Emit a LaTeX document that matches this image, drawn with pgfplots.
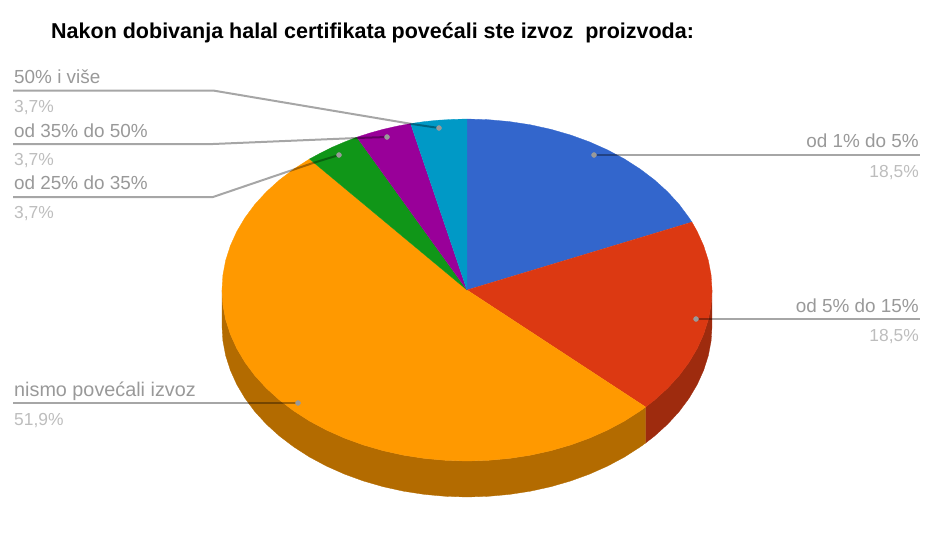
\documentclass[border=0pt]{standalone}
\usepackage{fontspec}
\setmainfont{Liberation Sans}
\usepackage{pgfplots}
\pgfplotsset{compat=1.18}
\definecolor{cblue}{HTML}{3366CC}
\definecolor{cred}{HTML}{DC3912}
\definecolor{corange}{HTML}{FF9900}
\definecolor{cgreen}{HTML}{109618}
\definecolor{cpurple}{HTML}{990099}
\definecolor{ccyan}{HTML}{0099C6}
\definecolor{credwall}{HTML}{9E2B0E}
\definecolor{corangewall}{HTML}{B36B00}
\definecolor{cname}{HTML}{999999}
\definecolor{cval}{HTML}{BDBDBD}
\newcommand{\lab}[4]{\node[anchor=base #1,inner sep=0pt,text=#2,font=\fontsize{18.9}{20}\selectfont] at (axis cs:#3) {#4};}
\newcommand{\val}[3]{\node[anchor=base #1,inner sep=0pt,text=cval,font=\fontsize{17.4}{20}\selectfont] at (axis cs:#2) {#3};}
\begin{document}
\begin{tikzpicture}
\path (0,0) rectangle (940pt,555pt);
\begin{axis}[
    hide axis,
    scale only axis,
    width=940pt,
    height=555pt,
    xmin=0,xmax=940,
    ymin=0,ymax=555,
    y dir=reverse,
    clip=false,
  ]
% side walls (top rim moved down by 36)
\addplot[fill=credwall,draw=credwall,line width=.3pt] coordinates {
  (712,290)(711.1,304.9)(708.3,319.7)(703.6,334.3)(697.2,348.5)(689,362.3)(679.2,375.5)
  (667.7,388.1)(654.7,399.9)(645.6,407)
  (645.6,443)(654.7,435.9)(667.7,424.1)(679.2,411.5)(689,398.3)(697.2,384.5)
  (703.6,370.3)(708.3,355.7)(711.1,340.9)(712,326)};
\addplot[fill=corangewall,draw=corangewall,line width=.3pt] coordinates {
  (645.6,407)(640.2,410.9)(624.5,421)(607.5,430.1)(589.5,438.1)(570.5,445)(550.8,450.7)
  (530.4,455.2)(509.5,458.4)(488.4,460.3)(467,461)(445.6,460.3)(424.5,458.4)(403.6,455.2)
  (383.2,450.7)(363.5,445)(344.5,438.1)(326.5,430.1)(309.5,421)(293.8,410.9)(279.3,399.9)
  (266.3,388.1)(254.8,375.5)(245,362.3)(236.8,348.5)(230.4,334.3)(225.7,319.7)(222.9,304.9)(222,290)
  (222,326)(222.9,340.9)(225.7,355.7)(230.4,370.3)(236.8,384.5)(245,398.3)(254.8,411.5)
  (266.3,424.1)(279.3,435.9)(293.8,446.9)(309.5,457)(326.5,466.1)(344.5,474.1)(363.5,481)
  (383.2,486.7)(403.6,491.2)(424.5,494.4)(445.6,496.3)(467,497)(488.4,496.3)(509.5,494.4)
  (530.4,491.2)(550.8,486.7)(570.5,481)(589.5,474.1)(607.5,466.1)(624.5,457)(640.2,446.9)(645.6,443)};
% top face
\addplot[fill=cblue,draw=cblue,line width=.3pt] coordinates {
  (467,290)(467,119)(488.4,119.7)(509.5,121.6)(530.4,124.8)(550.8,129.3)(570.5,135)
  (589.5,141.9)(607.5,149.9)(624.5,159)(640.2,169.1)(654.7,180.1)(667.7,191.9)
  (679.2,204.5)(689,217.7)(691.9,222.1)};
\addplot[fill=cred,draw=cred,line width=.3pt] coordinates {
  (467,290)(691.9,222.1)(697.2,231.5)(703.6,245.7)(708.3,260.3)(711.1,275.1)(712,290)
  (711.1,304.9)(708.3,319.7)(703.6,334.3)(697.2,348.5)(689,362.3)(679.2,375.5)
  (667.7,388.1)(654.7,399.9)(645.6,407)};
\addplot[fill=corange,draw=corange,line width=.3pt] coordinates {
  (467,290)(645.6,407)(640.2,410.9)(624.5,421)(607.5,430.1)(589.5,438.1)(570.5,445)(550.8,450.7)
  (530.4,455.2)(509.5,458.4)(488.4,460.3)(467,461)(445.6,460.3)(424.5,458.4)(403.6,455.2)
  (383.2,450.7)(363.5,445)(344.5,438.1)(326.5,430.1)(309.5,421)(293.8,410.9)(279.3,399.9)
  (266.3,388.1)(254.8,375.5)(245,362.3)(236.8,348.5)(230.4,334.3)(225.7,319.7)(222.9,304.9)(222,290)
  (222.9,275.1)(225.7,260.3)(230.4,245.7)(236.8,231.5)(245,217.7)(254.8,204.5)(266.3,191.9)
  (279.3,180.1)(293.8,169.1)(309.5,159)};
\addplot[fill=cgreen,draw=cgreen,line width=.3pt] coordinates {
  (467,290)(309.5,159)(320.8,152.9)(332.5,147.1)(344.5,142)(356.9,137.2)};
\addplot[fill=cpurple,draw=cpurple,line width=.3pt] coordinates {
  (467,290)(356.9,137.2)(369.9,133)(383.2,129.3)(396.8,126.2)(410.6,123.6)};
\addplot[fill=ccyan,draw=ccyan,line width=.3pt] coordinates {
  (467,290)(410.6,123.6)(424.5,121.6)(438.4,120.2)(452.7,119.4)(467,119)};
% leader lines
\addplot[black,draw opacity=.35,line width=2pt] coordinates {(13,90.5)(213,90.5)(412,124)(439,128)};
\addplot[black,draw opacity=.35,line width=2pt] coordinates {(13,144)(213,144)(357,138)(387,137)};
\addplot[black,draw opacity=.35,line width=2pt] coordinates {(13,197)(213,197)(313,163)(339,155)};
\addplot[black,draw opacity=.35,line width=2pt] coordinates {(594,155)(920,155)};
\addplot[black,draw opacity=.35,line width=2pt] coordinates {(696,319)(920,319)};
\addplot[black,draw opacity=.35,line width=2pt] coordinates {(13,403)(298,403)};
\addplot[only marks,mark=*,mark size=2.5pt,mark options={fill=cname,draw=cname}] coordinates {
  (439,128)(387,137)(339,155)(594,155)(696,319)(298,403)};
% text
\node[anchor=base west,inner sep=0pt,font=\fontsize{21.5}{24}\selectfont\bfseries] at (axis cs:51,38) {Nakon dobivanja halal certifikata povećali ste izvoz~ proizvoda:};
\lab{west}{cname}{14,83}{50\% i više}
\val{west}{14,112}{3,7\%}
\lab{west}{cname}{14,137}{od 35\% do 50\%}
\val{west}{14,165}{3,7\%}
\lab{west}{cname}{14,189}{od 25\% do 35\%}
\val{west}{14,218}{3,7\%}
\node[anchor=base west,inner sep=0pt,text=cname,font=\fontsize{19.8}{20}\selectfont] at (axis cs:14,396) {nismo povećali izvoz};
\val{west}{14,425}{51,9\%}
\lab{east}{cname}{919,147}{od 1\% do 5\%}
\val{east}{919,177}{18,5\%}
\lab{east}{cname}{919,312}{od 5\% do 15\%}
\val{east}{919,341}{18,5\%}
\end{axis}
\end{tikzpicture}
\end{document}
